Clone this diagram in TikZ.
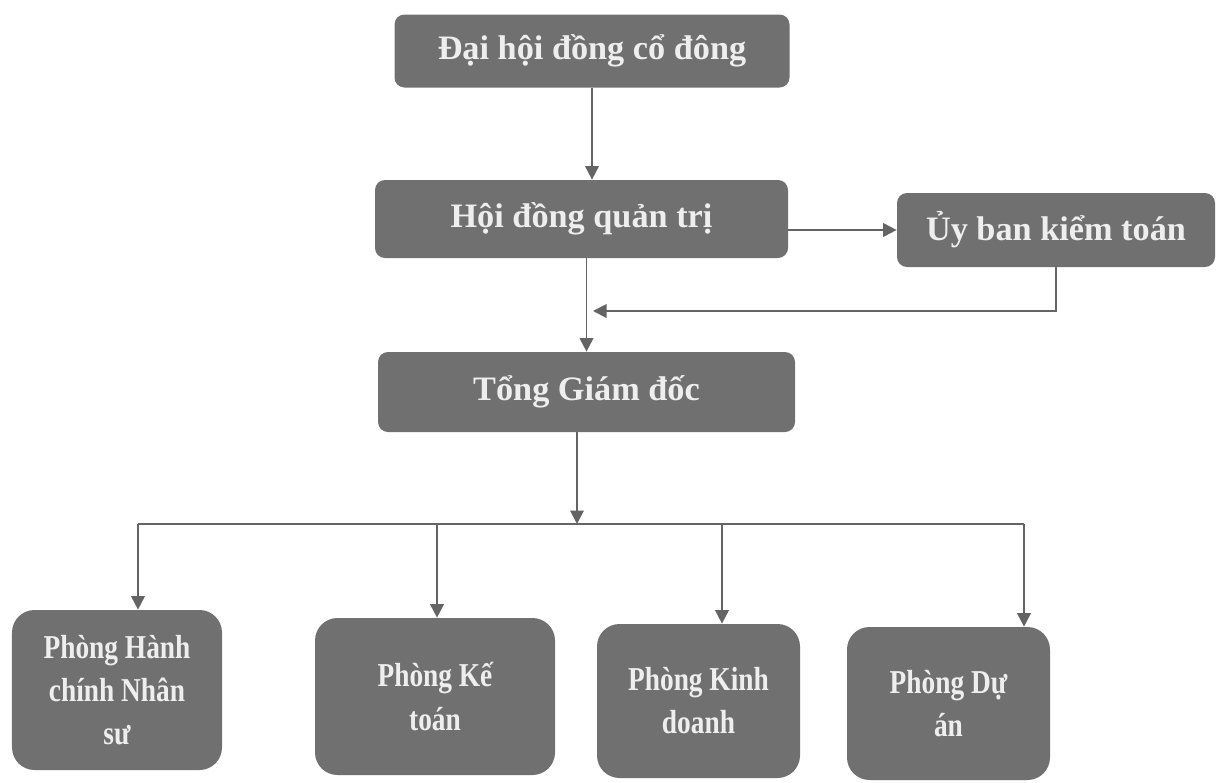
\documentclass[tikz,border=0pt]{standalone}
\usepackage{fontspec}
\setmainfont{Liberation Serif}
\newfontfamily\narrowserif[FakeStretch=0.82]{Liberation Serif}
\usetikzlibrary{arrows.meta}
\definecolor{boxgray}{RGB}{112,112,112}
\definecolor{linegray}{RGB}{100,100,100}
\definecolor{textwhite}{RGB}{238,238,238}

\begin{document}
\begin{tikzpicture}[
		box/.style={draw=none, fill=boxgray, rounded corners=0.2cm, align=center,
			text=textwhite, font=\fontsize{19.5}{23}\selectfont\bfseries, inner sep=0pt},
		deptbox/.style={draw=none, fill=boxgray, rounded corners=0.45cm, align=center,
			text=textwhite, font=\narrowserif\fontsize{19}{24.5}\selectfont\bfseries, inner sep=0pt},
		conn/.style={draw=linegray, line width=1.1pt},
		arr/.style={conn, -{Triangle[width=0.27cm, length=0.27cm]}},
	]
	\useasboundingbox (0,0) rectangle (24.5,-15.64);

	\node[box, minimum width=7.9cm, minimum height=1.46cm] (dhcd) at (11.84,-1.02) {Đại hội đồng cổ đông};
	\node[box, minimum width=8.26cm, minimum height=1.56cm] (hdqt) at (11.63,-4.38) {Hội đồng quản trị};
	\node[box, minimum width=6.36cm, minimum height=1.48cm] (ubkt) at (21.12,-4.6) {Ủy ban kiểm toán};
	\node[box, minimum width=8.34cm, minimum height=1.6cm] (tgd) at (11.73,-7.84) {Tổng Giám đốc};

	\node[deptbox, minimum width=4.2cm, minimum height=3.2cm] (p1) at (2.34,-13.8) {Phòng Hành\\ chính Nhân\\ sư};
	\node[deptbox, minimum width=4.8cm, minimum height=3.14cm] (p2) at (8.7,-13.93) {Phòng Kế\\ toán};
	\node[deptbox, minimum width=4.06cm, minimum height=3.08cm] (p3) at (13.97,-14.02) {Phòng Kinh\\ doanh};
	\node[deptbox, minimum width=4.06cm, minimum height=3.06cm] (p4) at (18.97,-14.07) {Phòng Dự\\ án};

	\coordinate (ret) at (11.86,-6.22);
	\coordinate (bt) at (11.54,-10.48);
	\coordinate (b1) at (2.76,-10.48);
	\coordinate (b2) at (8.74,-10.48);
	\coordinate (b3) at (14.44,-10.48);
	\coordinate (b4) at (20.48,-10.48);

	\draw[arr] (dhcd.south) -- (dhcd.south |- hdqt.north);
	\draw[arr] (hdqt.east |- ubkt.west) -- (ubkt.west);
	\draw[arr] (ubkt.south) |- (ret);
	\draw[arr] (tgd.north |- hdqt.south) -- (tgd.north);

	\draw[arr] (tgd.south -| bt) -- (bt);
	\draw[conn] (b1) -- (b4);
	\draw[arr] (b1) -- (b1 |- p1.north);
	\draw[arr] (b2) -- (b2 |- p2.north);
	\draw[arr] (b3) -- (b3 |- p3.north);
	\draw[arr] (b4) -- (b4 |- p4.north);
\end{tikzpicture}
\end{document}
